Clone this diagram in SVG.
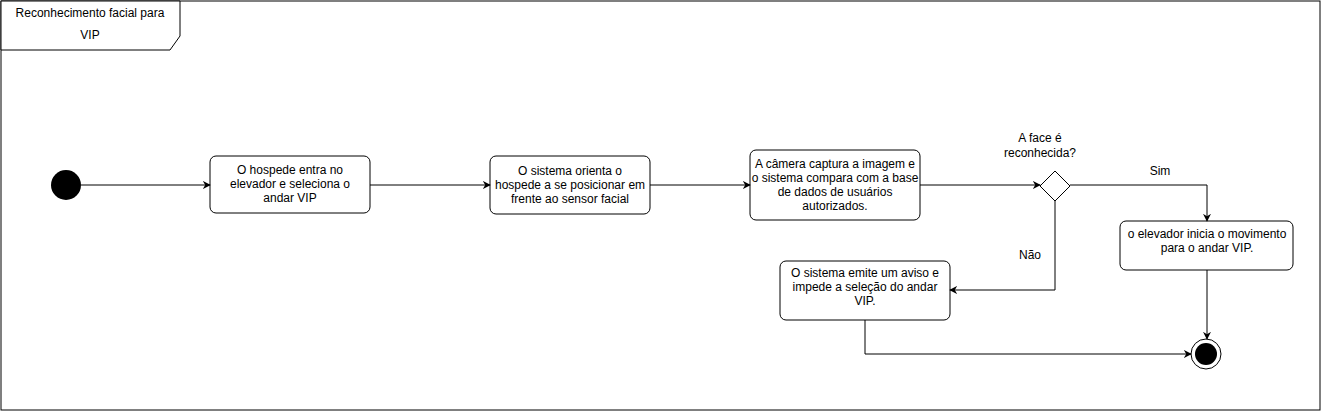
<svg xmlns="http://www.w3.org/2000/svg" width="1321" height="411" viewBox="0 0 1321 411">
<style>
text{font-family:"Liberation Sans",Arial,sans-serif;font-size:12px;fill:#000;text-anchor:middle}
.box{fill:#fff;stroke:#000;stroke-width:1}
.ln{fill:none;stroke:#000;stroke-width:1}
</style>
<defs>
<marker id="arr" viewBox="0 0 10 10" refX="9" refY="5" markerWidth="8" markerHeight="8" markerUnits="userSpaceOnUse" orient="auto">
<path d="M0,0 L10,5 L0,10 L3,5 Z" fill="#000"/>
</marker>
</defs>
<rect width="1321" height="411" fill="#fff"/>
<g id="frame">
<rect x="1" y="1" width="1319" height="409" class="ln"/>
<path d="M1,1 L180,1 L180,36 L170,50 L1,50 Z" class="box"/>
<text x="90" y="17">Reconhecimento facial para</text>
<text x="90" y="39">VIP</text>
</g>
<g id="start"><circle cx="66" cy="185" r="15" fill="#000"/></g>
<g id="n1">
<rect x="210" y="156" width="160" height="57" rx="6" class="box"/>
<text x="290" y="174">O hospede entra no</text>
<text x="290" y="188">elevador e seleciona o</text>
<text x="290" y="202">andar VIP</text>
</g>
<g id="n2">
<rect x="490" y="156" width="160" height="58" rx="6" class="box"/>
<text x="570" y="175">O sistema orienta o</text>
<text x="570" y="189">hospede a se posicionar em</text>
<text x="570" y="203">frente ao sensor facial</text>
</g>
<g id="n3">
<rect x="750" y="150" width="170" height="70" rx="6" class="box"/>
<text x="835" y="168">A câmera captura a imagem e</text>
<text x="835" y="182">o sistema compara com a base</text>
<text x="835" y="196">de dados de usuários</text>
<text x="835" y="210">autorizados.</text>
</g>
<g id="decision">
<path d="M1055,171 L1070,186 L1055,201 L1040,186 Z" class="box"/>
<text x="1040" y="142">A face é</text>
<text x="1040" y="157">reconhecida?</text>
</g>
<g id="n4">
<rect x="1120" y="221" width="173" height="49" rx="6" class="box"/>
<text x="1207" y="238">o elevador inicia o movimento</text>
<text x="1207" y="252">para o andar VIP.</text>
</g>
<g id="n5">
<rect x="780" y="261" width="170" height="59" rx="6" class="box"/>
<text x="865" y="277">O sistema emite um aviso e</text>
<text x="865" y="291">impede a seleção do andar</text>
<text x="865" y="305">VIP.</text>
</g>
<g id="end">
<circle cx="1206" cy="354" r="15" fill="#fff" stroke="#000" stroke-width="1"/>
<circle cx="1206" cy="354" r="11" fill="#000"/>
</g>
<g id="connectors">
<path d="M81,185 L210,185" class="ln" marker-end="url(#arr)"/>
<path d="M370,185 L490,185" class="ln" marker-end="url(#arr)"/>
<path d="M650,185 L750,185" class="ln" marker-end="url(#arr)"/>
<path d="M920,185 L1040,185" class="ln" marker-end="url(#arr)"/>
<path d="M1070,185 L1207,185 L1207,221" class="ln" marker-end="url(#arr)"/>
<text x="1160" y="175">Sim</text>
<path d="M1055,201 L1055,290 L950,290" class="ln" marker-end="url(#arr)"/>
<text x="1030" y="259">Não</text>
<path d="M865,320 L865,354 L1191,354" class="ln" marker-end="url(#arr)"/>
<path d="M1207,270 L1207,339" class="ln" marker-end="url(#arr)"/>
</g>
</svg>
